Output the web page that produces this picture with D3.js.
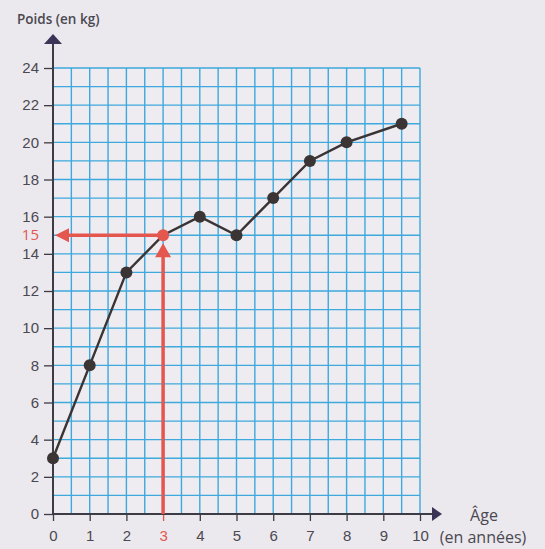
<!DOCTYPE html>
<html>
<head>
<meta charset="utf-8">
<script src="https://cdn.jsdelivr.net/npm/d3@7"></script>
<style>
  html, body { margin: 0; padding: 0; background: #ebe8ee; }
  svg { display: block; font-family: "Open Sans", "DejaVu Sans", sans-serif; }
  .tick-label { fill: #4a4850; font-size: 15px; }
</style>
</head>
<body>
<svg width="545" height="549"></svg>
<script>
// data
const ages = [0, 1, 2, 3, 4, 5, 6, 7, 8, 9.5]
const poids = [3, 8, 13, 15, 16, 15, 17, 19, 20, 21]
const xTicks = [0, 1, 2, 3, 4, 5, 6, 7, 8, 9, 10]
const yTicks = [0, 2, 4, 6, 8, 10, 12, 14, 16, 18, 20, 22, 24]
const readAge = 3
const readPoids = 15

const svg = d3.select("svg")

const scaleX = d3.scaleLinear().domain([0, 10]).range([53, 420])
const scaleY = d3.scaleLinear().domain([0, 24]).range([514, 68])

const grid = svg.append("g").attr("class", "grid")
grid.append("rect")
    .attr("x", scaleX(0)).attr("y", scaleY(24))
    .attr("width", scaleX(10) - scaleX(0))
    .attr("height", scaleY(0) - scaleY(24))
    .attr("fill", "#eeecf1")

grid.selectAll("line.v")
    .data(d3.range(0, 10.01, 0.5))
    .enter().append("line")
    .attr("class", "v")
    .attr("x1", d => scaleX(d)).attr("x2", d => scaleX(d))
    .attr("y1", scaleY(0)).attr("y2", scaleY(24))
    .attr("stroke", "#3ea9dc").attr("stroke-width", 1.4)

grid.selectAll("line.h")
    .data(d3.range(0, 24.01, 1))
    .enter().append("line")
    .attr("class", "h")
    .attr("x1", scaleX(0)).attr("x2", scaleX(10))
    .attr("y1", d => scaleY(d)).attr("y2", d => scaleY(d))
    .attr("stroke", "#3ea9dc").attr("stroke-width", 1.4)

// axes
const axisColor = "#3d3b45"
const axisXGenerator = d3.axisBottom(scaleX)
    .tickValues(xTicks)
    .tickSize(7)
    .tickSizeOuter(0)
    .tickPadding(9)
const axisYGenerator = d3.axisLeft(scaleY)
    .tickValues(yTicks)
    .tickSize(9)
    .tickSizeOuter(0)
    .tickPadding(5)

const axisXGroup = svg.append("g")
    .attr("transform", `translate(0,${scaleY(0)})`)
    .call(axisXGenerator)
const axisYGroup = svg.append("g")
    .attr("transform", `translate(${scaleX(0)},0)`)
    .call(axisYGenerator)

svg.selectAll(".domain").remove()
svg.selectAll(".tick line").attr("stroke", axisColor).attr("stroke-width", 1.3)
svg.selectAll(".tick text")
    .attr("class", "tick-label")
    .attr("font-family", null).attr("font-size", null)
    .attr("fill", null)

axisXGroup.selectAll(".tick").filter(d => d === readAge)
    .select("text").style("fill", "#e4574f")
axisXGroup.selectAll(".tick").filter(d => d === readAge)
    .select("line").attr("stroke", "#e4574f")

// axis lines with arrows
svg.append("line")
    .attr("x1", scaleX(0)).attr("x2", 434)
    .attr("y1", scaleY(0)).attr("y2", scaleY(0))
    .attr("stroke", axisColor).attr("stroke-width", 2)
svg.append("path")
    .attr("d", `M432,${scaleY(0) - 7} L442,${scaleY(0)} L432,${scaleY(0) + 7} Z`)
    .attr("fill", "#3a3456")

svg.append("line")
    .attr("x1", scaleX(0)).attr("x2", scaleX(0))
    .attr("y1", scaleY(0) + 1).attr("y2", 44)
    .attr("stroke", axisColor).attr("stroke-width", 2)
svg.append("path")
    .attr("d", `M${scaleX(0) - 9},44 L${scaleX(0)},34 L${scaleX(0) + 9},44 Z`)
    .attr("fill", "#3a3456")

// extra red label for 15
svg.append("text")
    .attr("class", "tick-label")
    .attr("x", scaleX(0) - 14)
    .attr("y", scaleY(readPoids))
    .attr("dy", "0.34em")
    .attr("text-anchor", "end")
    .style("fill", "#e4574f")
    .text(readPoids)

// axis titles
svg.append("text")
    .attr("x", 17).attr("y", 24)
    .attr("font-size", 13.5).attr("font-weight", 600)
    .attr("fill", "#4a4850")
    .text("Poids (en kg)")
svg.append("text")
    .attr("x", 484).attr("y", 521)
    .attr("font-size", 16).attr("text-anchor", "middle")
    .attr("fill", "#4a4850")
    .text("Âge")
svg.append("text")
    .attr("x", 483).attr("y", 543)
    .attr("font-size", 16).attr("text-anchor", "middle")
    .attr("fill", "#4a4850")
    .text("(en années)")

// data line
const data = ages.map((a, i) => ({ age: a, poids: poids[i] }))
const lineGenerator = d3.line()
    .x(d => scaleX(d.age))
    .y(d => scaleY(d.poids))

svg.append("path")
    .datum(data)
    .attr("d", lineGenerator)
    .attr("fill", "none")
    .attr("stroke", "#3a3434")
    .attr("stroke-width", 2.4)

// red reading arrows
const red = "#e4574f"
const px = scaleX(readAge)
const py = scaleY(readPoids)
svg.append("line")
    .attr("x1", px).attr("x2", px)
    .attr("y1", scaleY(0)).attr("y2", py + 20)
    .attr("stroke", red).attr("stroke-width", 3.5)
svg.append("path")
    .attr("d", `M${px - 8},${py + 22} L${px},${py + 8} L${px + 8},${py + 22} Z`)
    .attr("fill", red)
svg.append("line")
    .attr("x1", px).attr("x2", scaleX(0) + 14)
    .attr("y1", py).attr("y2", py)
    .attr("stroke", red).attr("stroke-width", 3.5)
svg.append("path")
    .attr("d", `M${scaleX(0) + 16},${py - 7} L${scaleX(0) + 2},${py} L${scaleX(0) + 16},${py + 7} Z`)
    .attr("fill", red)

svg.selectAll("circle.pt")
    .data(data)
    .enter().append("circle")
    .attr("class", "pt")
    .attr("cx", d => scaleX(d.age))
    .attr("cy", d => scaleY(d.poids))
    .attr("r", 6)
    .attr("fill", d => d.age === readAge ? red : "#3a3434")
</script>
</body>
</html>
